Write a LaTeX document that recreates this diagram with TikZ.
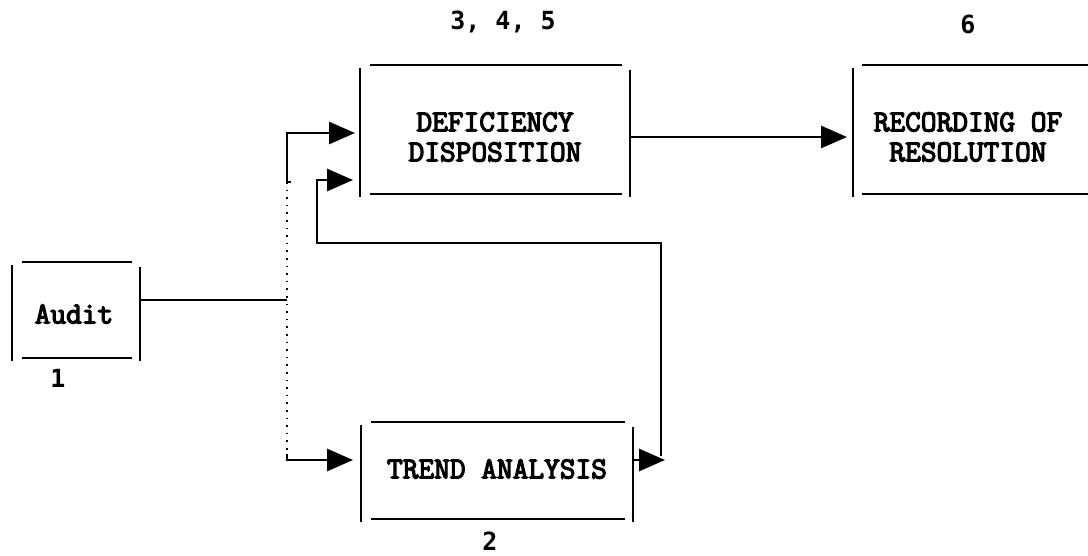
\documentclass[tikz,border=0pt]{standalone}
\usepackage{fontspec}
\newfontfamily\numfont{DejaVu Sans Mono}
\newfontfamily\twfont[FakeBold=4]{Latin Modern Mono}
\usetikzlibrary{arrows.meta}
\newcommand\openbox[1]{%
  \draw[edge] ([shift={(0,3)}]#1.north west) -- ([shift={(0,1)}]#1.south west);
  \draw[edge] ([shift={(0,5)}]#1.north east) -- ([shift={(0,1)}]#1.south east);
  \draw[edge] ([shift={(10,0)}]#1.north west) -- ([shift={(-8,0)}]#1.north east);
  \draw[edge] ([shift={(10,-2)}]#1.south west) -- ([shift={(-8,-2)}]#1.south east);}
\begin{document}
\begin{tikzpicture}[x=1pt,y=-1pt,
  edge/.style={line width=2.8pt},
  arr/.style={line width=2.8pt,-{Triangle[length=26pt,width=22pt]}},
  frame/.style={inner sep=0pt,outer sep=0pt,rectangle},
  txt/.style={inner sep=0pt,align=center,font=\twfont\fontsize{30.5}{30}\selectfont},
  num/.style={inner sep=0pt,font=\numfont\bfseries\fontsize{25}{30}\selectfont}]
\useasboundingbox (0,0) rectangle (1088,555);

% boxes
\node[frame,minimum width=270pt,minimum height=131pt] (d) at (495,130.5) {};
\node[txt] (dt) at (495,137) {DEFICIENCY\\DISPOSITION};
\node[frame,minimum width=272pt,minimum height=99pt] (t) at (497,471.5) {};
\node[txt] (tt) at (497,469) {TREND ANALYSIS};
\node[frame,minimum width=128pt,minimum height=98pt] (a) at (76,311) {};
\node[txt] (at) at (74,314) {Audit};
\node[frame,minimum width=240pt,minimum height=131pt] (r) at (973,130.5) {};
\node[txt] (rt) at (968,137) {RECORDING OF\\RESOLUTION};

\openbox{d}
\openbox{t}
\openbox{a}
\draw[edge] ([shift={(0,3)}]r.north west) -- ([shift={(0,1)}]r.south west);
\draw[edge] ([shift={(9,0)}]r.north west) -- (r.north east);
\draw[edge] ([shift={(9,-2)}]r.south west) -- ([shift={(0,-2)}]r.south east);

% labels
\node[num] (l345) at (503,22) {3, 4, 5};
\node[num] (l6) at (968,24) {6};
\node[num] (l2) at (490,541) {2};
\node[num] (l1) at (58,378) {1};

% connectors
\coordinate (j) at (287,300);
\coordinate (jtop) at (287,182);
\coordinate (jbot) at (287,454);
\draw[edge] (a.east |- j) -- (j);
\draw[line width=2pt,dash pattern=on 1.6pt off 6pt] (jtop) -- (jbot);
\draw[edge] ([shift={(4,0)}]jtop) -- (jtop);
\draw[arr,shorten >=5pt] (jtop) |- (d.west |- 0,133);
\draw[arr,shorten >=8pt] (jbot) |- (t.west |- 0,460);
\draw[arr,shorten >=6pt] (d.east |- 0,137) -- (r.west |- 0,137);

\coordinate (tr) at (665,460);
\coordinate (fb) at (661,243);
\draw[arr] (t.east |- 0,460) -- (tr);
\draw[arr,shorten >=7pt] (661,456) -- (fb) -| (317,180) -- (d.west |- 0,180);
\end{tikzpicture}
\end{document}
